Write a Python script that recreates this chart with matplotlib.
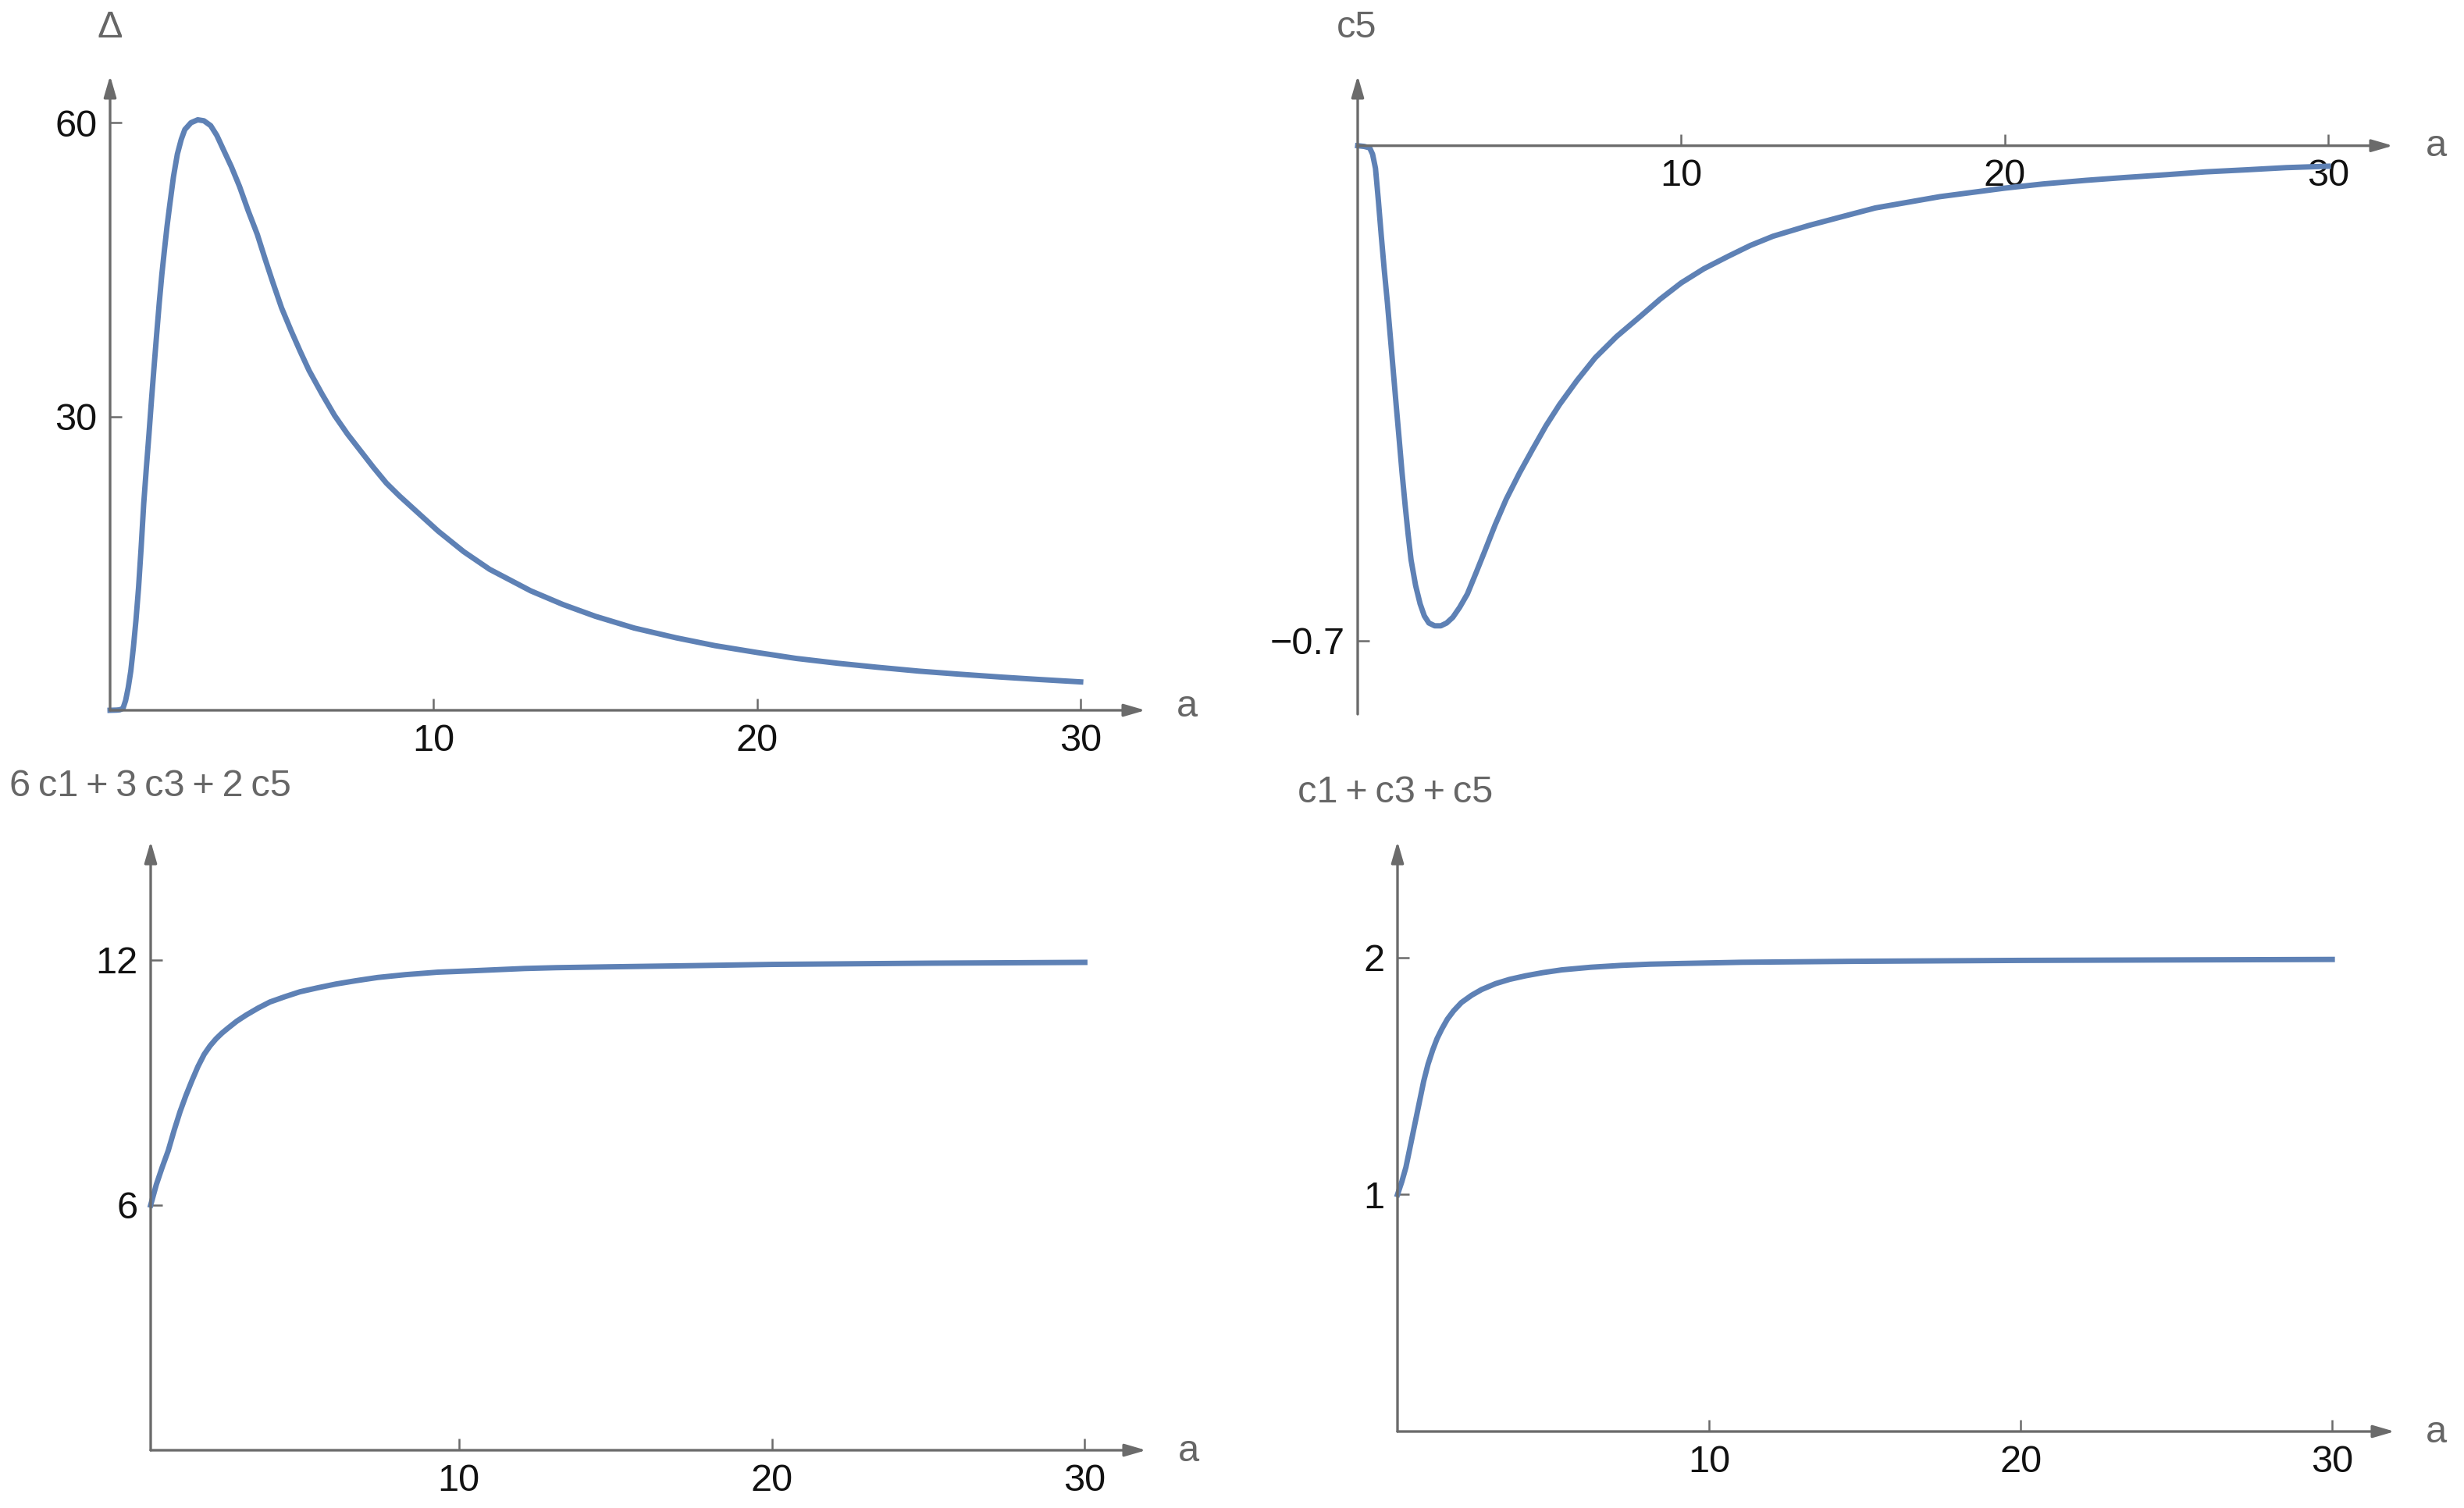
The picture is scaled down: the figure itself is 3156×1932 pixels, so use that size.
import matplotlib.pyplot as plt

plt.rcParams['font.family'] = ['Liberation Sans', 'DejaVu Sans']

W, H = 3156, 1932
curve_col = '#5e81b5'
axis_col = '#6b6b6b'
label_col = '#666666'

# top left: Delta(a)
a_delta = [0, 0.2, 0.3, 0.4, 0.48, 0.56, 0.64, 0.72, 0.8, 0.88, 0.96, 1.04, 1.12, 1.2,
           1.28, 1.36, 1.44, 1.52, 1.6, 1.68, 1.76, 1.84, 1.96, 2.08, 2.2, 2.31, 2.5,
           2.71, 2.9, 3.11, 3.3, 3.51, 3.75, 4.0, 4.27, 4.55, 4.8, 5.03, 5.3, 5.59, 5.87,
           6.15, 6.55, 6.94, 7.34, 7.74, 8.14, 8.54, 8.94, 9.34, 9.74, 10.14, 10.93,
           11.73, 13, 14, 15, 16.2, 17.5, 18.7, 20, 21.2, 22.5, 23.7, 25, 26.2, 27.5,
           28.7, 30]
delta = [0, 0.02, 0.05, 0.2, 1.0, 2.3, 4.0, 6.4, 9.2, 12.5, 16.6, 21.1, 24.7, 28.1,
         31.7, 35.1, 38.4, 41.6, 44.5, 47.0, 49.4, 51.5, 54.5, 56.8, 58.3, 59.3, 60.0,
         60.3, 60.2, 59.7, 58.7, 57.2, 55.5, 53.5, 51.0, 48.6, 46.0, 43.7, 41.1, 38.8,
         36.7, 34.7, 32.3, 30.1, 28.2, 26.5, 24.8, 23.2, 21.9, 20.7, 19.5, 18.3, 16.2,
         14.4, 12.2, 10.8, 9.6, 8.4, 7.4, 6.6, 5.9, 5.3, 4.8, 4.4, 4.0, 3.7, 3.4, 3.15,
         2.9]

# top right: c5(a)
a_c5 = [0, 0.2, 0.37, 0.46, 0.55, 0.64, 0.73, 0.82, 0.92, 1.01, 1.10, 1.19, 1.28, 1.37,
        1.47, 1.56, 1.65, 1.79, 1.93, 2.06, 2.2, 2.38, 2.57, 2.75, 2.94, 3.15, 3.39,
        3.65, 3.94, 4.25, 4.59, 5.0, 5.41, 5.82, 6.24, 6.78, 7.34, 8.0, 8.72, 9.35, 10,
        10.7, 11.47, 12.14, 12.84, 13.93, 15, 16, 17, 18, 19, 20, 21.2, 22.5, 23.7, 25,
        26.2, 27.5, 28.7, 30]
c5 = [0, -0.001, -0.003, -0.012, -0.032, -0.078, -0.128, -0.175, -0.223, -0.271, -0.319,
      -0.367, -0.414, -0.462, -0.51, -0.55, -0.586, -0.622, -0.648, -0.665, -0.675,
      -0.679, -0.679, -0.675, -0.667, -0.653, -0.634, -0.605, -0.572, -0.536, -0.5,
      -0.463, -0.429, -0.396, -0.366, -0.332, -0.3, -0.27, -0.242, -0.217, -0.194,
      -0.174, -0.156, -0.141, -0.128, -0.113, -0.1, -0.088, -0.08, -0.072, -0.066,
      -0.06, -0.054, -0.049, -0.045, -0.041, -0.037, -0.034, -0.031, -0.029]

# bottom left: 6 c1 + 3 c3 + 2 c5
a_sum6 = [0.15, 0.33, 0.52, 0.71, 0.9, 1.09, 1.28, 1.47, 1.66, 1.86, 2.05, 2.24, 2.43,
          2.62, 2.9, 3.2, 3.58, 3.96, 4.44, 4.92, 5.5, 6.07, 6.7, 7.4, 8.3, 9.32, 10.3,
          11.2, 12.1, 13.1, 14.75, 17.5, 20, 25, 30]
sum6 = [6.0, 6.5, 6.93, 7.33, 7.83, 8.29, 8.69, 9.05, 9.39, 9.69, 9.9, 10.07, 10.21,
        10.33, 10.5, 10.65, 10.82, 10.97, 11.1, 11.22, 11.32, 11.41, 11.49, 11.57, 11.64,
        11.70, 11.73, 11.76, 11.79, 11.81, 11.83, 11.86, 11.89, 11.92, 11.94]

# bottom right: c1 + c3 + c5
a_sum1 = [0, 0.14, 0.27, 0.46, 0.65, 0.84, 0.98, 1.13, 1.27, 1.42, 1.6, 1.8, 2.05, 2.38,
          2.7, 3.15, 3.6, 4.11, 4.65, 5.27, 6.2, 7.19, 8.1, 9.11, 11.04, 14.57, 20, 25,
          30]
sum1 = [1.0, 1.055, 1.115, 1.236, 1.357, 1.478, 1.55, 1.61, 1.658, 1.698, 1.74, 1.775,
        1.81, 1.841, 1.865, 1.89, 1.908, 1.923, 1.936, 1.948, 1.959, 1.967, 1.972,
        1.975, 1.98, 1.984, 1.988, 1.99, 1.992]

fig = plt.figure(figsize=(W / 100, H / 100), dpi=100)


def make_axes(left, right, top, bottom):
    # box given in pixels of the final picture
    return fig.add_axes([left / W, 1 - bottom / H, (right - left) / W, (bottom - top) / H])


def setup(ax, xlim, ylim, xorig, yorig, xticks, yticks, ylabels):
    ax.set_xlim(xlim)
    ax.set_ylim(ylim)
    ax.spines['top'].set_visible(False)
    ax.spines['right'].set_visible(False)
    ax.spines['left'].set_position(('data', xorig))
    ax.spines['bottom'].set_position(('data', yorig))
    ax.spines['left'].set_color('none')
    ax.spines['bottom'].set_color('none')
    ax.patch.set_alpha(0)
    arrow = dict(arrowstyle='-|>,head_length=0.55,head_width=0.16', color=axis_col,
                 lw=2.4, mutation_scale=30, shrinkA=0, shrinkB=0)
    ax.annotate('', xy=(xlim[1], yorig), xytext=(xorig, yorig), arrowprops=arrow,
                annotation_clip=False)
    ax.annotate('', xy=(xorig, ylim[1]), xytext=(xorig, ylim[0]), arrowprops=arrow,
                annotation_clip=False)
    ax.set_xticks(xticks, labels=[str(t) for t in xticks])
    ax.set_yticks(yticks, labels=ylabels)
    ax.tick_params(direction='in', length=11, width=1.8, color=axis_col, pad=12,
                   labelsize=35, labelcolor='#111111')


def label(x, y, s):
    fig.text(x / W, 1 - y / H, s, fontsize=35, color=label_col, ha='center', va='center')


ax1 = make_axes(141, 1467, 97, 910)
setup(ax1, (0, 32.0), (0, 64.8), 0, 0, [10, 20, 30], [30, 60], ['30', '60'])
ax1.plot(a_delta, delta, color=curve_col, lw=5, clip_on=False)

ax2 = make_axes(1739, 3065, 97, 915)
setup(ax2, (0, 32.0), (-0.804, 0.099), 0, 0, [10, 20, 30], [-0.7], ['\u22120.7'])
ax2.plot(a_c5, c5, color=curve_col, lw=5, clip_on=False)

ax3 = make_axes(193, 1468, 1078, 1858)
setup(ax3, (0.15, 31.96), (0, 14.9), 0.15, 0, [10, 20, 30], [6, 12], ['6', '12'])
ax3.plot(a_sum6, sum6, color=curve_col, lw=5, clip_on=False)

ax4 = make_axes(1790, 3067, 1078, 1834)
setup(ax4, (0, 32.0), (0, 2.49), 0, 0, [10, 20, 30], [1, 2], ['1', '2'])
ax4.plot(a_sum1, sum1, color=curve_col, lw=5, clip_on=False)

ts = '\u2009'
label(141, 35, '\u0394')
label(1520, 905, 'a')
label(1738, 35, 'c5')
label(3120, 188, 'a')
label(192, 1008, f'6{ts}c1{ts}+{ts}3{ts}c3{ts}+{ts}2{ts}c5')
label(1522, 1860, 'a')
label(1787, 1015, f'c1{ts}+{ts}c3{ts}+{ts}c5')
label(3120, 1836, 'a')

fig.savefig('out.png', dpi=100)
